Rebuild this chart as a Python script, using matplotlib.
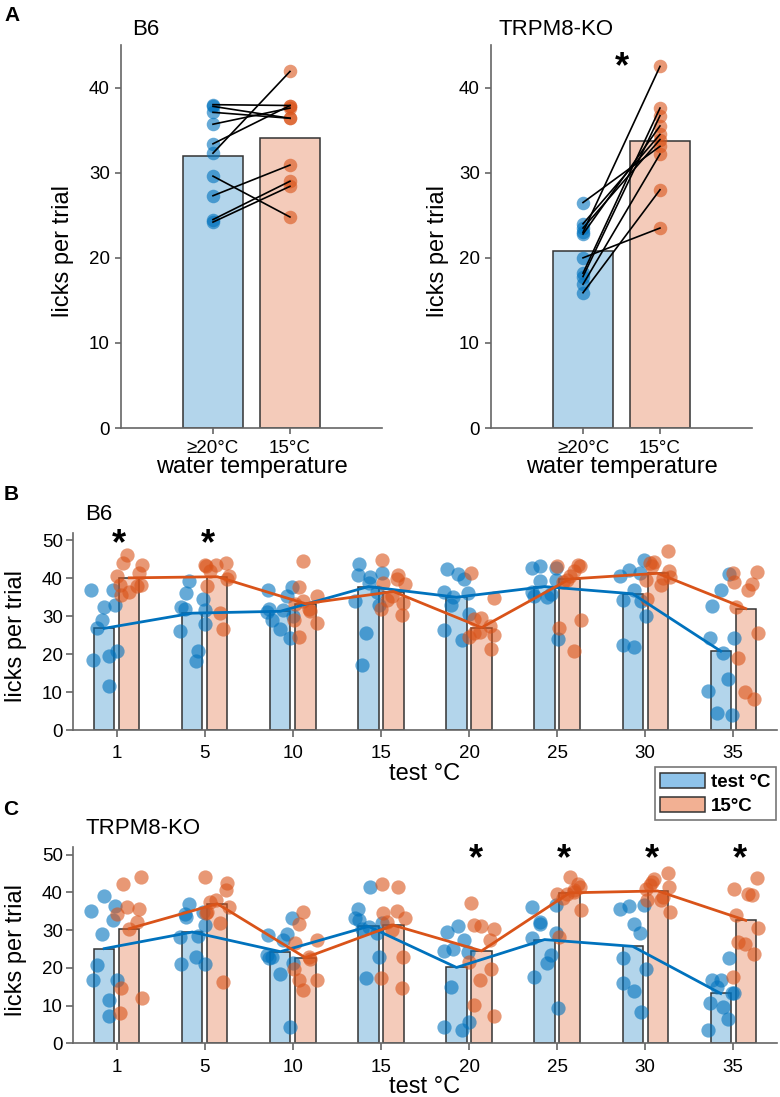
import numpy as np
import matplotlib.pyplot as plt
from matplotlib.patches import Patch

plt.rcParams['font.family'] = ['Liberation Sans', 'DejaVu Sans']

# ---- panel A data: licks per trial per mouse (>=20C vs 15C) ----
a_groups = ['≥20°C', '15°C']
a_b6_warm = [38.0, 37.8, 37.1, 35.7, 33.4, 32.3, 29.6, 27.3, 24.5, 24.2]
a_b6_cold = [37.9, 36.4, 36.4, 37.6, 37.9, 41.9, 24.8, 30.9, 29.0, 28.4]
a_ko_warm = [23.0, 26.5, 24.0, 23.5, 22.8, 20.0, 18.2, 17.8, 16.9, 15.9]
a_ko_cold = [42.5, 33.1, 34.5, 33.9, 35.5, 23.5, 37.6, 36.7, 32.2, 28.0]

# ---- panels B/C data ----
test_temps = ['1', '5', '10', '15', '20', '25', '30', '35']

b_test_mean = [26.8, 30.8, 31.3, 37.8, 35.0, 37.8, 35.9, 20.8]
b_cold_mean = [40.1, 40.4, 33.3, 36.5, 27.0, 39.8, 41.3, 32.0]
b_test_pts = [
    [32.4, 37.0, 36.8, 33.0, 28.9, 27.0, 20.9, 18.5, 19.5, 11.7],
    [34.6, 39.2, 36.1, 28.0, 26.0, 20.7, 18.2, 32.4, 31.7, 31.9],
    [37.7, 36.8, 35.2, 31.7, 31.9, 30.1, 28.9, 26.6, 24.2, 31.0],
    [40.3, 40.9, 41.5, 43.8, 38.7, 36.5, 33.9, 33.0, 25.7, 17.2],
    [42.4, 41.2, 39.8, 36.5, 36.1, 35.0, 33.0, 30.6, 26.4, 23.7],
    [42.7, 42.7, 43.3, 39.4, 39.6, 36.5, 35.9, 35.0, 35.4, 23.9],
    [42.2, 44.7, 40.5, 41.3, 36.8, 34.3, 30.1, 22.4, 22.0, 33.9],
    [41.1, 36.9, 32.7, 24.2, 24.2, 20.2, 13.5, 10.4, 4.0, 4.6],
]
b_cold_pts = [
    [38.3, 44.0, 46.0, 41.5, 40.5, 37.9, 36.5, 35.5, 43.6, 38.3],
    [39.8, 43.6, 44.0, 43.6, 41.8, 40.7, 38.0, 30.8, 26.6, 43.3],
    [44.5, 37.7, 35.2, 33.3, 31.9, 31.3, 28.9, 28.2, 24.5, 33.9],
    [44.9, 40.9, 39.8, 38.7, 38.5, 34.3, 35.4, 33.4, 31.8, 30.3],
    [41.5, 34.7, 29.2, 29.5, 27.4, 24.6, 21.3, 25.9, 25.5, 25.1],
    [40.5, 43.5, 43.1, 43.3, 39.6, 39.1, 29.0, 26.8, 20.8, 41.8],
    [47.1, 44.4, 43.1, 41.8, 39.6, 40.0, 38.3, 34.5, 40.3, 44.0],
    [41.6, 39.1, 38.5, 36.9, 32.4, 25.5, 19.1, 9.9, 8.1, 41.5],
]
b_stars = [0, 1]

c_test_mean = [25.1, 29.5, 24.3, 31.0, 20.1, 27.5, 25.7, 13.2]
c_cold_mean = [30.4, 37.0, 22.7, 31.3, 24.5, 39.9, 40.4, 32.6]
c_test_pts = [
    [39.0, 32.8, 35.1, 36.3, 28.9, 20.7, 16.9, 16.8, 11.6, 7.2],
    [34.8, 36.9, 33.5, 31.3, 28.2, 28.4, 22.9, 21.0, 21.0, 34.2],
    [33.2, 28.7, 28.9, 27.3, 22.5, 21.2, 22.9, 18.5, 4.4, 23.4],
    [41.4, 35.7, 31.9, 32.6, 30.9, 29.3, 33.1, 22.8, 17.2, 30.4],
    [29.5, 31.0, 27.3, 24.4, 24.3, 24.9, 14.8, 5.7, 4.4, 3.5],
    [36.2, 36.6, 31.7, 32.2, 29.3, 28.0, 23.4, 21.3, 17.6, 9.3],
    [36.3, 36.6, 35.7, 29.3, 31.7, 22.5, 19.7, 16.0, 13.9, 8.4],
    [22.5, 16.9, 16.9, 13.4, 10.6, 9.7, 6.3, 3.4, 13.4, 15.0],
]
c_cold_pts = [
    [44.1, 42.3, 36.2, 35.7, 34.2, 32.2, 30.2, 14.7, 12.1, 7.9],
    [42.5, 44.1, 40.6, 37.9, 37.5, 36.2, 34.8, 31.9, 16.3, 34.5],
    [34.8, 31.5, 27.5, 26.5, 22.9, 22.4, 19.6, 16.9, 16.8, 14.1],
    [42.3, 41.4, 35.1, 34.6, 33.1, 32.2, 30.0, 22.9, 17.2, 14.6],
    [37.3, 30.2, 31.3, 31.0, 27.3, 21.6, 19.8, 16.8, 10.1, 7.1],
    [44.1, 42.3, 39.7, 41.4, 39.5, 38.4, 35.3, 28.2, 40.1, 40.6],
    [45.1, 43.7, 42.8, 41.4, 41.0, 38.8, 38.1, 37.9, 34.8, 42.0],
    [43.9, 41.0, 39.2, 39.5, 34.1, 30.5, 26.9, 26.3, 23.8, 17.5],
]
c_stars = [4, 5, 6, 7]

# colours
blue = '#0072BD'
orange = '#D95319'
blue_bar = '#b3d5eb'
orange_bar = '#f4cbba'
spine_col = '#666666'

fig = plt.figure(figsize=(7.8, 10.97), dpi=100)


def style_axes(ax):
    for s in ['top', 'right']:
        ax.spines[s].set_visible(False)
    for s in ['left', 'bottom']:
        ax.spines[s].set_color(spine_col)
        ax.spines[s].set_linewidth(1.2)
    ax.tick_params(direction='out', color=spine_col, width=1.2, labelsize=13.5)


def panel_a(rect, warm, cold, title, title_x, ylab_x, star=False):
    ax = fig.add_axes(rect)
    warm = np.array(warm)
    cold = np.array(cold)
    ax.bar([1, 2], [warm.mean(), cold.mean()], width=0.78,
           color=[blue_bar, orange_bar], edgecolor='#333333', linewidth=1.1, zorder=1)
    ax.scatter(np.ones(len(warm)), warm, s=95, color=blue, alpha=0.6, lw=0, zorder=2)
    ax.scatter(np.full(len(cold), 2), cold, s=95, color=orange, alpha=0.6, lw=0, zorder=2)
    for w, c in zip(warm, cold):
        ax.plot([1, 2], [w, c], color='black', lw=1.2, zorder=3)
    ax.set_xlim(-0.195, 3.195)
    ax.set_ylim(0, 45)
    ax.set_yticks([0, 10, 20, 30, 40])
    ax.set_xticks([1, 2])
    ax.set_xticklabels(a_groups)
    style_axes(ax)
    ax.tick_params(axis='y', length=4.5, pad=3.5)
    ax.tick_params(axis='x', length=4.5, pad=4)
    ax.set_ylabel('licks per trial', fontsize=17)
    ax.yaxis.set_label_coords(ylab_x, 0.462)
    ax.set_xlabel('water temperature', fontsize=17)
    ax.xaxis.set_label_coords(0.5, -0.072)
    ax.text(title_x, 1.026, title, transform=ax.transAxes, ha='left',
            va='baseline', fontsize=16)
    if star:
        ax.text(1.5, 41.2, '*', ha='center', va='baseline', fontsize=26,
                fontweight='bold')
    return ax


panel_a([0.1551, 0.6098, 0.3346, 0.3491], a_b6_warm, a_b6_cold, 'B6', 0.042, -0.18)
panel_a([0.6295, 0.6098, 0.3346, 0.3491], a_ko_warm, a_ko_cold, 'TRPM8-KO', 0.027, -0.16,
        star=True)


def panel_bc(rect, tmean, cmean, tpts, cpts, stars, title, title_y, star_dx):
    ax = fig.add_axes(rect)
    x = np.arange(len(test_temps))
    off = 0.142
    ax.bar(x - off, tmean, width=0.23, color=blue_bar, edgecolor='#333333',
           linewidth=1.1, zorder=1)
    ax.bar(x + off, cmean, width=0.23, color=orange_bar, edgecolor='#333333',
           linewidth=1.1, zorder=1)
    for i in range(len(x)):
        n = len(tpts[i])
        jit = 0.15 * np.sin(np.arange(n) * 2.4 + i)
        ax.scatter(x[i] - off + jit, tpts[i], s=105, color=blue, alpha=0.6, lw=0, zorder=2)
        n = len(cpts[i])
        jit = 0.14 * np.sin(np.arange(n) * 2.4 + i + 1.3)
        ax.scatter(x[i] + off + jit, cpts[i], s=105, color=orange, alpha=0.6, lw=0, zorder=2)
    ax.plot(x - off, tmean, color=blue, lw=2, zorder=3)
    ax.plot(x + off, cmean, color=orange, lw=2, zorder=3)
    for i in stars:
        ax.text(x[i] + star_dx, 46.3, '*', ha='center', va='baseline', fontsize=26,
                fontweight='bold')
    ax.set_xlim(-0.5, 7.5)
    ax.set_ylim(0, 52)
    ax.set_yticks([0, 10, 20, 30, 40, 50])
    ax.set_xticks(x)
    ax.set_xticklabels(test_temps)
    style_axes(ax)
    ax.tick_params(axis='y', length=5, pad=2)
    ax.tick_params(axis='x', length=5, pad=6)
    ax.set_ylabel('licks per trial', fontsize=17)
    ax.yaxis.set_label_coords(-0.065, 0.476)
    ax.set_xlabel('test °C', fontsize=17)
    ax.xaxis.set_label_coords(0.5, -0.165)
    ax.text(0.0175, title_y, title, transform=ax.transAxes, ha='left',
            va='baseline', fontsize=16)
    return ax


panel_bc([0.0932, 0.3345, 0.9033, 0.1799], b_test_mean, b_cold_mean, b_test_pts,
         b_cold_pts, b_stars, 'B6', 1.064, 0.03)
panel_bc([0.0932, 0.0490, 0.9033, 0.1787], c_test_mean, c_cold_mean, c_test_pts,
         c_cold_pts, c_stars, 'TRPM8-KO', 1.068, 0.08)

# legend
handles = [Patch(facecolor='#8ec3ea', edgecolor='#333333', lw=1.1),
           Patch(facecolor='#f2b093', edgecolor='#333333', lw=1.1)]
leg = fig.legend(handles, ['test °C', '15°C'], loc='upper right',
                 bbox_to_anchor=(776 / 780, 1 - 767 / 1097), borderaxespad=0,
                 prop={'weight': 'bold', 'size': 13.5}, fancybox=False,
                 edgecolor='#777777', framealpha=1, handlelength=2.4,
                 handleheight=0.9, labelspacing=0.3, handletextpad=0.3,
                 borderpad=0.3)
leg.get_frame().set_linewidth(1.2)

# panel letters
fig.text(4 / 780, 1 - 21 / 1097, 'A', fontsize=15, fontweight='bold', va='baseline')
fig.text(4 / 780, 1 - 500 / 1097, 'B', fontsize=15, fontweight='bold', va='baseline')
fig.text(3 / 780, 1 - 815 / 1097, 'C', fontsize=15, fontweight='bold', va='baseline')

fig.savefig('out.png', dpi=100)
